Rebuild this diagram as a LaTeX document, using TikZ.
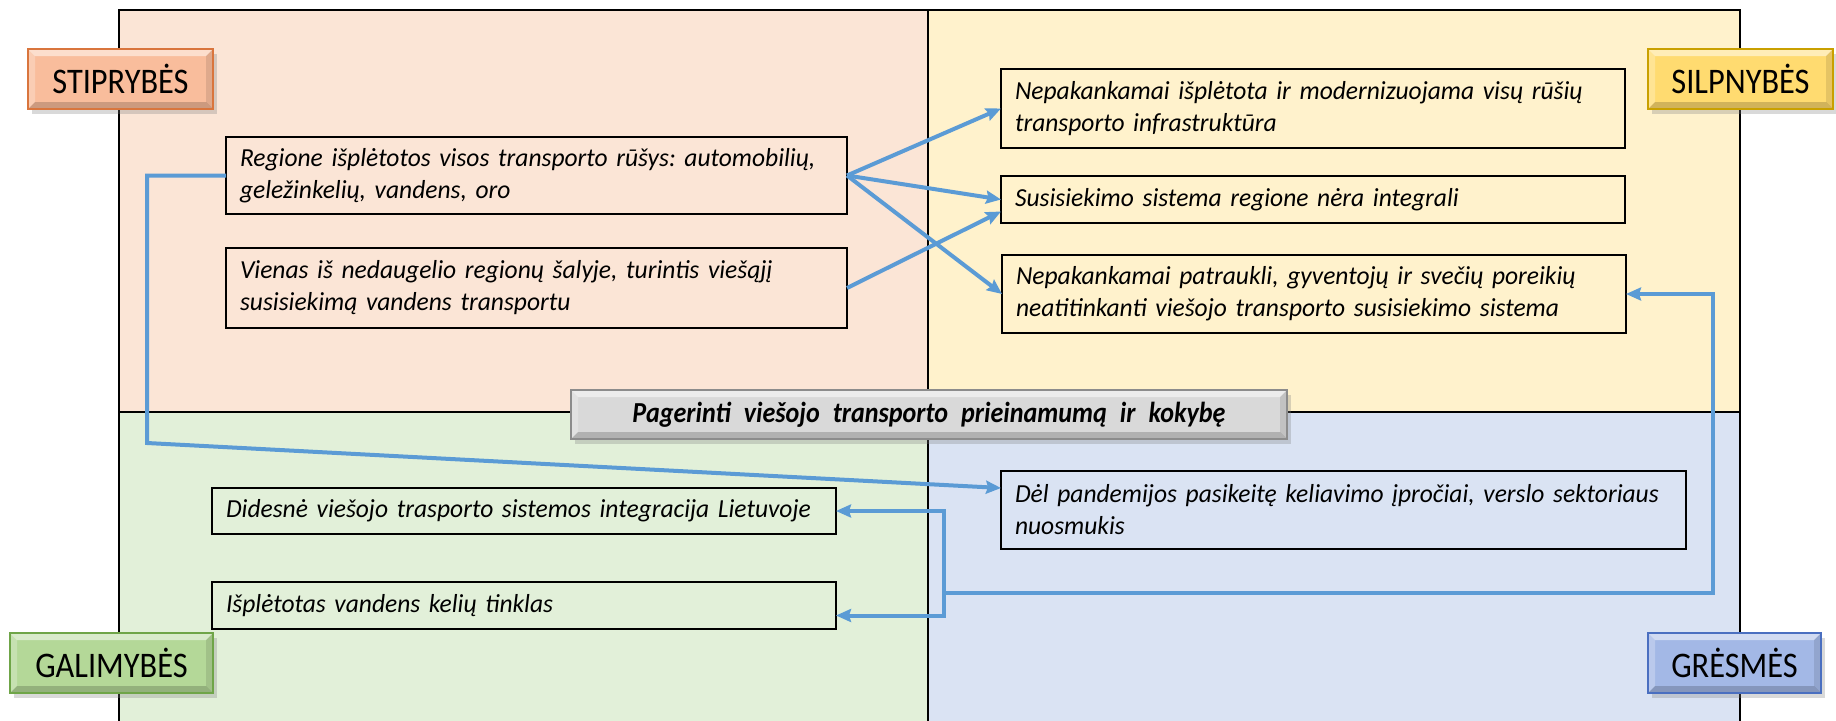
\documentclass[tikz,border=0pt]{standalone}
\usepackage{fontspec}
\setmainfont{Carlito}[FakeStretch=0.98]
\newfontfamily\tagfont{Carlito}[FakeStretch=0.9]
\frenchspacing
\usetikzlibrary{arrows.meta}
\usetikzlibrary{shadows}
\definecolor{sblue}{HTML}{5B9BD5}
\definecolor{qpeach}{HTML}{FBE5D6}
\definecolor{qyellow}{HTML}{FFF2CC}
\definecolor{qgreen}{HTML}{E2F0D9}
\definecolor{qblue}{HTML}{DAE3F3}
\definecolor{torange}{HTML}{F9BD9C}
\definecolor{torangedk}{HTML}{D9753D}
\definecolor{tgold}{HTML}{FFDB70}
\definecolor{tgolddk}{HTML}{C9A000}
\definecolor{tgreen}{HTML}{B4D898}
\definecolor{tgreendk}{HTML}{6FA548}
\definecolor{tblue}{HTML}{A3B8E6}
\definecolor{tbluedk}{HTML}{4A6FC0}
\definecolor{tgray}{HTML}{D9D9D9}
\definecolor{tgraydk}{HTML}{8C8C8C}
\tikzset{
    tagbevel/.style={path picture={
        \fill[white,opacity=0.5] (path picture bounding box.north west) -- (path picture bounding box.north east) -- ([shift={(-7pt,-7pt)}]path picture bounding box.north east) -- ([shift={(7pt,-7pt)}]path picture bounding box.north west) -- cycle;
        \fill[white,opacity=0.25] (path picture bounding box.north west) -- ([shift={(7pt,-7pt)}]path picture bounding box.north west) -- ([shift={(7pt,7pt)}]path picture bounding box.south west) -- (path picture bounding box.south west) -- cycle;
        \fill[black,opacity=0.18] (path picture bounding box.south west) -- (path picture bounding box.south east) -- ([shift={(-7pt,7pt)}]path picture bounding box.south east) -- ([shift={(7pt,7pt)}]path picture bounding box.south west) -- cycle;
        \fill[black,opacity=0.1] (path picture bounding box.north east) -- (path picture bounding box.south east) -- ([shift={(-7pt,7pt)}]path picture bounding box.south east) -- ([shift={(-7pt,-7pt)}]path picture bounding box.north east) -- cycle;
    }},
    tag/.style={draw=#1dk, fill=#1, line width=1.5pt, tagbevel, drop shadow={shadow xshift=4pt,shadow yshift=-5pt,opacity=0.3}, anchor=north west, inner sep=0pt, outer sep=0pt, minimum height=60pt, font=\tagfont\fontsize{36}{40}\selectfont},
    box/.style={draw=black, line width=1.8pt, anchor=north west, align=left, inner xsep=14pt, inner ysep=0pt, outer sep=0pt, font=\itshape\fontsize{26}{32}\selectfont}
}

\begin{document}
\begin{tikzpicture}[x=1pt,y=-1pt,>={Stealth[length=15pt,width=13pt,inset=2pt]},every edge/.style={draw=sblue,line width=4pt}]
        \useasboundingbox (0,0) rectangle (1836,720);

        \fill[qpeach] (119,10) rectangle (928,412);
        \fill[qyellow] (928,10) rectangle (1740,412);
        \fill[qgreen] (119,412) rectangle (928,730);
        \fill[qblue] (928,412) rectangle (1740,730);
        \draw[line width=2pt] (119,730) -- (119,10) -- (1740,10) -- (1740,730);
        \draw[line width=2pt] (928,10) -- (928,730);
        \draw[line width=2pt] (119,412) -- (1740,412);

        \node[box, text width=593pt, minimum height=77pt] (S1) at (226,137) {Regione išplėtotos visos transporto rūšys: automobilių,\\ geležinkelių, vandens, oro};

        \node[box, text width=593pt, minimum height=80pt] (S2) at (226,248) {Vienas iš nedaugelio regionų šalyje, turintis viešąjį\\ susisiekimą vandens transportu};

        \node[box, text width=596pt, minimum height=79pt] (W1) at (1001,69) {Nepakankamai išplėtota ir modernizuojama visų rūšių\\ transporto infrastruktūra};

        \node[box, text width=596pt, minimum height=47pt] (W2) at (1001,176) {Susisiekimo sistema regione nėra integrali};

        \node[box, text width=596pt, minimum height=78pt] (W3) at (1002,255) {Nepakankamai patraukli, gyventojų ir svečių poreikių\\ neatitinkanti viešojo transporto susisiekimo sistema};

        \node[box, text width=596pt, minimum height=46pt] (O1) at (212,488) {Didesnė viešojo trasporto sistemos integracija Lietuvoje};

        \node[box, text width=596pt, minimum height=47pt] (O2) at (212,582) {Išplėtotas vandens kelių tinklas};

        \node[box, text width=657pt, minimum height=78pt] (T1) at (1001,471) {Dėl pandemijos pasikeitę keliavimo įpročiai, verslo sektoriaus\\ nuosmukis};

        \coordinate (A) at (147,443);
        \coordinate (B) at (944,593);
        \coordinate (C) at (1713,593);

        \path [->](S1.east) edge (W1.west);
        \path [->](S1.east) edge (W2.west);
        \path [->](S1.east) edge (W3.west);
        \path [->](S2.east) edge ([yshift=-12pt]W2.west);

        \draw[->, sblue, line width=4pt] (S1.west) -| (A) -- ([yshift=22pt]T1.west);
        \draw[->, sblue, line width=4pt] (B) -- (C) |- (W3.east);
        \draw[->, sblue, line width=4pt] (B) |- (O1.east);
        \draw[->, sblue, line width=4pt] (B) |- ([yshift=-10pt]O2.east);

        \node[tag=tgray, minimum width=716pt, minimum height=49pt, font=\tagfont\bfseries\itshape\fontsize{29}{32}\selectfont] (G) at (571,390) {\spaceskip=0.45em Pagerinti viešojo transporto prieinamumą ir kokybę};

        \node[tag=torange, minimum width=185pt] (ST) at (28,49) {STIPRYBĖS};

        \node[tag=tgold, minimum width=185pt] (SI) at (1648,49) {SILPNYBĖS};

        \node[tag=tgreen, minimum width=203pt] (GA) at (10,633) {GALIMYBĖS};

        \node[tag=tblue, minimum width=173pt] (GR) at (1648,633) {GRĖSMĖS};

    \end{tikzpicture}
\end{document}
